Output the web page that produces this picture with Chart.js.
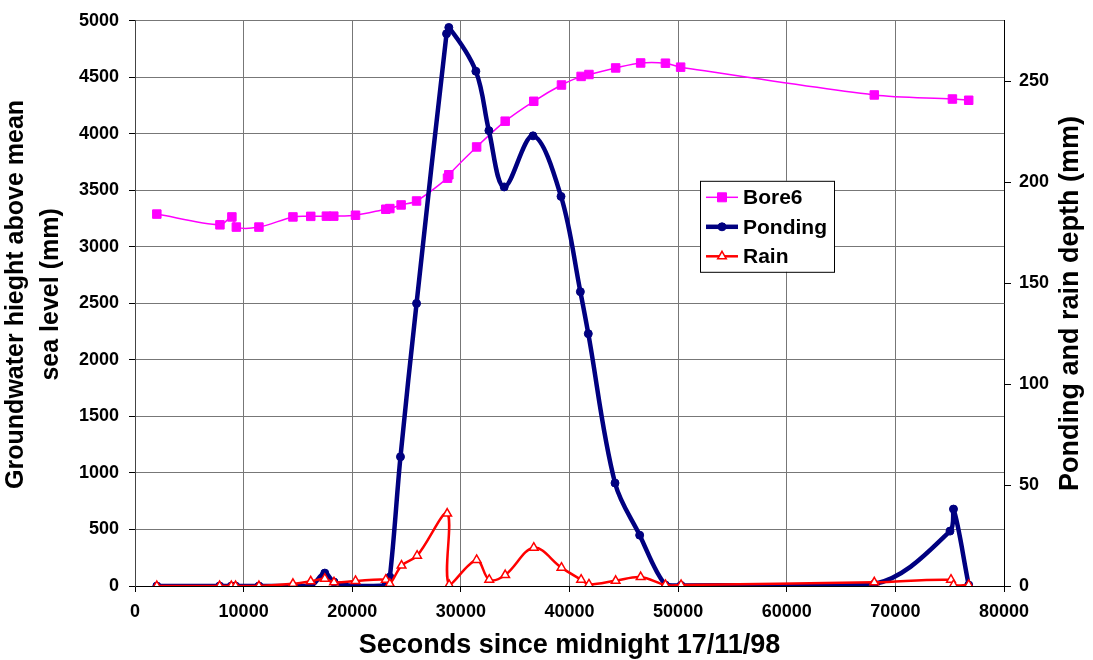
<!DOCTYPE html>
<html>
<head>
<meta charset="utf-8">
<title>Bore6, ponding and rain</title>
<script src="https://cdn.jsdelivr.net/npm/chart.js@4.4.1/dist/chart.umd.min.js"></script>
<style>
    html, body { margin: 0; padding: 0; background: #fff; }
    #obal { width: 1093px; height: 660px; }
</style>
</head>
<body>
<div id="obal"><canvas id="graf" width="1093" height="660"></canvas></div>
<script>
// Bore6 - hladina podzemnej vody (mm, ľavá os)
const boreSec = [2010, 7820, 8920, 9330, 11410, 14540, 16180, 17620, 18300, 20300, 23090, 23460, 24500, 25920, 28770, 28890, 31450, 34080, 36710, 39260, 41070, 41790, 44250, 46550, 48830, 50230, 68060, 75250, 76750]
const boreLevel = [3290, 3195, 3265, 3175, 3175, 3265, 3270, 3272, 3272, 3280, 3333, 3339, 3371, 3406, 3608, 3638, 3884, 4112, 4288, 4432, 4508, 4525, 4583, 4627, 4625, 4590, 4344, 4308, 4297]

// Ponding (mm, pravá os)
const pondSec = [2010, 7790, 8870, 9260, 11410, 14540, 16180, 17470, 18320, 20300, 23090, 23460, 24440, 25920, 28680, 28890, 31380, 32580, 33990, 36640, 39220, 41000, 41730, 44190, 46460, 48830, 50270, 68060, 75030, 75350, 76750]
const pondDepth = [0, 0, 0, 0, 0, 0, 0, 6.4, 2, 0, 0.3, 4.4, 64, 140, 273.6, 276.7, 255, 225.6, 197.7, 223, 193, 145.8, 125, 51, 25.2, 0.5, 0.3, 1, 27.2, 38.1, 0.5]

// Rain (mm, pravá os)
const rainSec = [2010, 7790, 8870, 9260, 11410, 14540, 16180, 17470, 18320, 20300, 23090, 23460, 24540, 25970, 28740, 28920, 31450, 32610, 34080, 36710, 39260, 41070, 41790, 44250, 46550, 48830, 50270, 68060, 75120, 75350, 76750]
const rainDepth = [0, 0, 0, 0, 0, 1.1, 2.3, 3.6, 1.8, 2.5, 3.1, 1.1, 10.1, 15, 35.9, 0.5, 12.9, 3.1, 5.4, 19, 9.1, 3.1, 0.8, 2.6, 4.4, 0.5, 0.5, 1.8, 3.1, 0.5, 0.5]

// Osi
const secTicks = [0, 10000, 20000, 30000, 40000, 50000, 60000, 70000, 80000]
const levelTicks = [0, 500, 1000, 1500, 2000, 2500, 3000, 3500, 4000, 4500, 5000]
const depthTicks = [0, 50, 100, 150, 200, 250]
const depthMax = 280

const levelTitle = ['Groundwater hieght above mean', 'sea level (mm)']
const depthTitle = 'Ponding and rain depth (mm)'

const pismo = "'Liberation Sans', Arial, sans-serif"
const mriezka = '#777777'

function body(xs, ys) {
    return xs.map((x, i) => ({ x: x, y: ys[i] }))
}

// Legenda vo vnútri grafu + titulky zvislých osí (čítajú sa zdola nahor)
const doplnky = {
    id: 'doplnky',
    afterDraw(chart) {
        const ctx = chart.ctx
        const a = chart.chartArea
        const lx = a.left + 565, ly = a.top + 160, lw = 134, lh = 91
        ctx.save()
        ctx.fillStyle = '#ffffff'
        ctx.fillRect(lx, ly, lw, lh)
        ctx.strokeStyle = '#000000'
        ctx.lineWidth = 1
        ctx.strokeRect(lx + 0.5, ly + 0.5, lw, lh)

        chart.data.datasets.forEach((ds, i) => {
            const ry = ly + 16.5 + i * 29.5
            const mx = lx + 22
            ctx.strokeStyle = ds.borderColor
            ctx.lineWidth = ds.borderWidth
            ctx.beginPath()
            ctx.moveTo(lx + 6, ry)
            ctx.lineTo(lx + 38, ry)
            ctx.stroke()

            ctx.fillStyle = ds.pointBackgroundColor
            ctx.strokeStyle = ds.pointBorderColor
            ctx.lineWidth = ds.pointBorderWidth
            ctx.beginPath()
            if (ds.pointStyle === 'rect') {
                ctx.rect(mx - 4.5, ry - 4.5, 9, 9)
            } else if (ds.pointStyle === 'circle') {
                ctx.arc(mx, ry, 4, 0, Math.PI * 2)
            } else {
                ctx.moveTo(mx, ry - 5)
                ctx.lineTo(mx + 4.3, ry + 2.5)
                ctx.lineTo(mx - 4.3, ry + 2.5)
                ctx.closePath()
            }
            ctx.fill()
            ctx.stroke()

            ctx.fillStyle = '#000000'
            ctx.font = 'bold 21px ' + pismo
            ctx.textAlign = 'left'
            ctx.textBaseline = 'middle'
            ctx.fillText(ds.label, lx + 43, ry + 1)
        })
        ctx.restore()

        // ľavý titulok, dva riadky
        ctx.save()
        ctx.font = 'bold 25px ' + pismo
        ctx.fillStyle = '#000000'
        ctx.textAlign = 'center'
        ctx.textBaseline = 'middle'
        levelTitle.forEach((t, i) => {
            ctx.save()
            ctx.translate(16 + i * 35, (a.top + a.bottom) / 2 - 9)
            ctx.rotate(-Math.PI / 2)
            ctx.fillText(t, 0, 0)
            ctx.restore()
        })

        // pravý titulok
        const os = chart.scales.y2
        ctx.translate(os.right - 22, (a.top + a.bottom) / 2)
        ctx.rotate(-Math.PI / 2)
        ctx.font = 'bold 27px ' + pismo
        ctx.fillText(depthTitle, 0, 0)
        ctx.restore()
    }
}

const ctx = document.getElementById('graf').getContext('2d')
new Chart(ctx, {
    type: 'line',
    data: {
        datasets: [
            {
                label: 'Bore6', data: body(boreSec, boreLevel), yAxisID: 'y', order: 3,
                borderColor: '#FF00FF', borderWidth: 1.5, tension: 0.3,
                pointStyle: 'rect', pointRadius: 6, pointBackgroundColor: '#FF00FF',
                pointBorderColor: '#FF00FF', pointBorderWidth: 1
            },
            {
                label: 'Ponding', data: body(pondSec, pondDepth), yAxisID: 'y2', order: 2,
                borderColor: '#000080', borderWidth: 4.5, tension: 0.35,
                pointStyle: 'circle', pointRadius: 4, pointBackgroundColor: '#000080',
                pointBorderColor: '#000080', pointBorderWidth: 1
            },
            {
                label: 'Rain', data: body(rainSec, rainDepth), yAxisID: 'y2', order: 1,
                borderColor: '#FF0000', borderWidth: 2.5, tension: 0.35,
                pointStyle: 'triangle', pointRadius: 5, pointBackgroundColor: '#ffffff',
                pointBorderColor: '#FF0000', pointBorderWidth: 1.5
            }
        ]
    },
    options: {
        responsive: false,
        devicePixelRatio: 1,
        animation: false,
        layout: { padding: { top: 17, left: 0, right: 0, bottom: 0 } },
        plugins: {
            legend: { display: false },
            tooltip: { enabled: false }
        },
        scales: {
            x: {
                type: 'linear',
                min: 0, max: 80000,
                afterFit: s => { s.height = 74 },
                afterBuildTicks: s => { s.ticks = secTicks.map(v => ({ value: v })) },
                grid: { color: mriezka, lineWidth: 1, tickLength: 6, tickColor: '#000000' },
                border: { color: '#000000', width: 1 },
                ticks: {
                    autoSkip: false, maxRotation: 0, padding: 9, color: '#000000',
                    font: { family: pismo, size: 18, weight: 'bold' },
                    callback: v => String(v)
                },
                title: {
                    display: true, text: 'Seconds since midnight 17/11/98', color: '#000000',
                    font: { family: pismo, size: 27, weight: 'bold', lineHeight: 1.1 },
                    padding: { top: 0, bottom: 0 }
                }
            },
            y: {
                position: 'left',
                min: 0, max: 5000,
                afterFit: s => { s.width = 135 },
                afterBuildTicks: s => { s.ticks = levelTicks.map(v => ({ value: v })) },
                grid: { color: mriezka, lineWidth: 1, tickLength: 6, tickColor: '#000000' },
                border: { color: '#444444', width: 1 },
                ticks: {
                    padding: 10, color: '#000000',
                    font: { family: pismo, size: 18, weight: 'bold' },
                    callback: v => String(v)
                }
            },
            y2: {
                position: 'right',
                min: 0, max: depthMax,
                afterFit: s => { s.width = 89 },
                afterBuildTicks: s => { s.ticks = depthTicks.map(v => ({ value: v })) },
                grid: { drawOnChartArea: false, tickLength: 7, tickColor: '#000000' },
                border: { color: '#000000', width: 1 },
                ticks: {
                    padding: 8, color: '#000000',
                    font: { family: pismo, size: 18, weight: 'bold' },
                    callback: v => String(v)
                }
            }
        }
    },
    plugins: [doplnky]
})
</script>
</body>
</html>
